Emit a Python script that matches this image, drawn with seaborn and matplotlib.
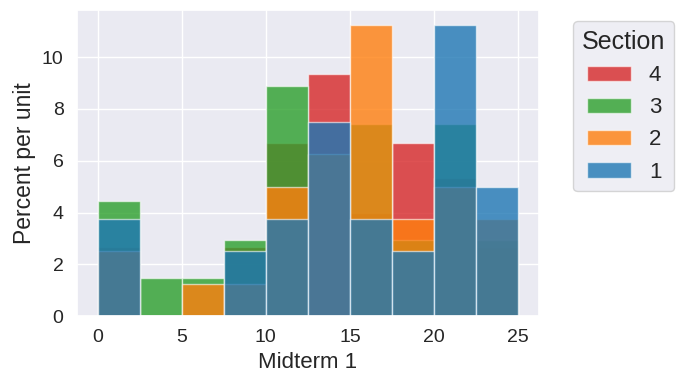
import pandas as pd
import seaborn as sns
import matplotlib.pyplot as plt

# Bin edges of the midterm scores and the bin centres
edges = [0, 2.5, 5, 7.5, 10, 12.5, 15, 17.5, 20, 22.5, 25]
mids = [1.25, 3.75, 6.25, 8.75, 11.25, 13.75, 16.25, 18.75, 21.25, 23.75]

# Percent per unit for each section
sec1 = [3.75, 0, 0, 2.5, 3.75, 7.5, 3.75, 2.5, 11.25, 5.0]
sec2 = [2.5, 0, 1.25, 1.25, 5.0, 6.25, 11.25, 3.75, 5.0, 3.75]
sec3 = [4.44, 1.48, 1.48, 2.96, 8.89, 0, 7.41, 2.96, 7.41, 2.96]
sec4 = [2.67, 0, 0, 2.67, 6.67, 9.33, 4.0, 6.67, 5.33, 2.67]

sections = [1, 2, 3, 4]
colors = {1: "#1f77b4", 2: "#ff7f0e", 3: "#2ca02c", 4: "#d62728"}

rows = []
for sec, vals in zip(sections, [sec1, sec2, sec3, sec4]):
    for m, v in zip(mids, vals):
        rows.append({"Midterm 1": m, "pct": v, "Section": sec})
df = pd.DataFrame(rows)

sns.set_theme(style="darkgrid")
plt.rcParams['font.family'] = ['Liberation Sans', 'DejaVu Sans']

fig, ax = plt.subplots(figsize=(6.85, 3.88), dpi=100)
fig.subplots_adjust(left=0.112, right=0.787, top=0.974, bottom=0.185)

# seaborn draws hue levels in reverse, so section 1 (blue) ends up on top
sns.histplot(data=df, x="Midterm 1", weights="pct", hue="Section", bins=edges,
             hue_order=sections, palette=colors, alpha=0.8,
             edgecolor=(1, 1, 1, 0.6), linewidth=1, ax=ax)

ax.set_xlabel("Midterm 1", fontsize=16)
ax.set_ylabel("Percent per unit", fontsize=16.5)
ax.set_xticks([0, 5, 10, 15, 20, 25])
ax.set_yticks([0, 2, 4, 6, 8, 10])
ax.tick_params(labelsize=14)

# Legend listed 4..1 like the original
leg = ax.get_legend()
handles = list(leg.legend_handles)
labels = [t.get_text() for t in leg.get_texts()]
ax.legend(handles[::-1], labels[::-1], title="Section", loc="upper left",
          bbox_to_anchor=(1.05, 1), fontsize=16, title_fontsize=18)

plt.savefig("out.png", dpi=100)
